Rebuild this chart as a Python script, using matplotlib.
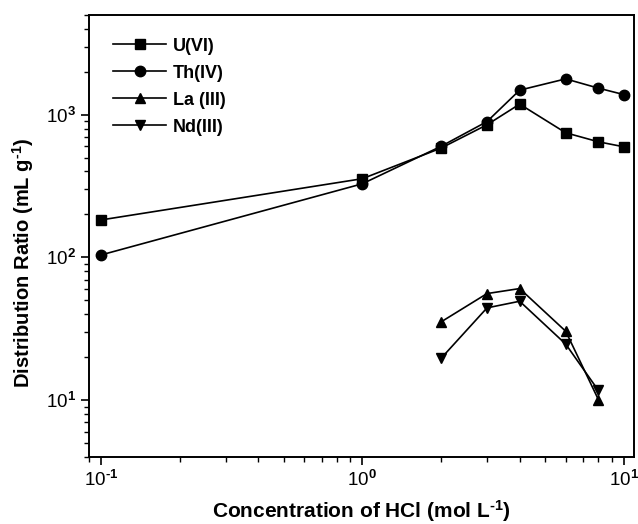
import numpy as np
import matplotlib
matplotlib.use('Agg')
import matplotlib.pyplot as plt
from matplotlib.ticker import LogLocator, NullFormatter, FuncFormatter

plt.rcParams['font.family'] = ['Liberation Sans', 'DejaVu Sans']
plt.rcParams['mathtext.fontset'] = 'custom'
plt.rcParams['mathtext.rm'] = 'Liberation Sans:bold'
plt.rcParams['mathtext.it'] = 'Liberation Sans:italic'
plt.rcParams['mathtext.bf'] = 'Liberation Sans:bold'
plt.rcParams['axes.unicode_minus'] = False  # 用连字符作负号

# 数据
x_u = [0.1, 1, 2, 3, 4, 6, 8, 10]
y_u = [183, 356, 583, 850, 1186, 747, 646, 596]
x_th = [0.1, 1, 2, 3, 4, 6, 8, 10]
y_th = [104, 328, 600, 895, 1486, 1782, 1535, 1384]
x_la = [2, 3, 4, 6, 8]
y_la = [35.3, 55.8, 60.5, 30.4, 10.1]
x_nd = [2, 3, 4, 6, 8]
y_nd = [19.6, 44.3, 49.3, 24.7, 11.7]


def log_fmt(v, pos):
    e = int(round(np.log10(v)))
    return r'$\mathsf{10^{\text{%d}}}$' % e


plt.rcParams['mathtext.sf'] = 'Liberation Sans'

fig = plt.figure(figsize=(6.38, 5.24), dpi=100)
ax = fig.add_axes([0.1395, 0.128, 0.855, 0.8435])

kw = dict(color='black', lw=1.2, ms=7.5)
ax.plot(x_u, y_u, marker='s', label='U(VI)', **kw)
ax.plot(x_th, y_th, marker='o', label='Th(IV)', **kw)
ax.plot(x_la, y_la, marker='^', label='La (III)', **kw)
ax.plot(x_nd, y_nd, marker='v', label='Nd(III)', **kw)

ax.set_xscale('log')
ax.set_yscale('log')
ax.set_xlim(0.09, 11)
ax.set_ylim(4, 5000)

ax.xaxis.set_major_formatter(FuncFormatter(log_fmt))
ax.yaxis.set_major_formatter(FuncFormatter(log_fmt))
ax.xaxis.set_minor_locator(LogLocator(base=10, subs=np.arange(2, 10)))
ax.yaxis.set_minor_locator(LogLocator(base=10, subs=np.arange(2, 10)))
ax.xaxis.set_minor_formatter(NullFormatter())
ax.yaxis.set_minor_formatter(NullFormatter())

ax.tick_params(which='major', direction='out', length=6, width=1.2, labelsize=13.5,
               top=False, right=False)
ax.tick_params(which='minor', direction='out', length=3.5, width=1.0,
               top=False, right=False)
for s in ax.spines.values():
    s.set_linewidth(1.4)

ax.set_xlabel(r'Concentration of HCl (mol L$^{\text{-1}}$)', fontsize=15, fontweight='bold',
              labelpad=6)
ax.set_ylabel(r'Distribution Ratio (mL g$^{\text{-1}}$)', fontsize=14.5, fontweight='bold')
ax.yaxis.set_label_coords(-0.098, 0.44)

leg = ax.legend(loc='upper left', frameon=False, prop={'weight': 'bold', 'size': 13},
                handlelength=2.9, handletextpad=0.4, labelspacing=0.55,
                bbox_to_anchor=(0.015, 0.985))

fig.savefig('out.png', dpi=100)
